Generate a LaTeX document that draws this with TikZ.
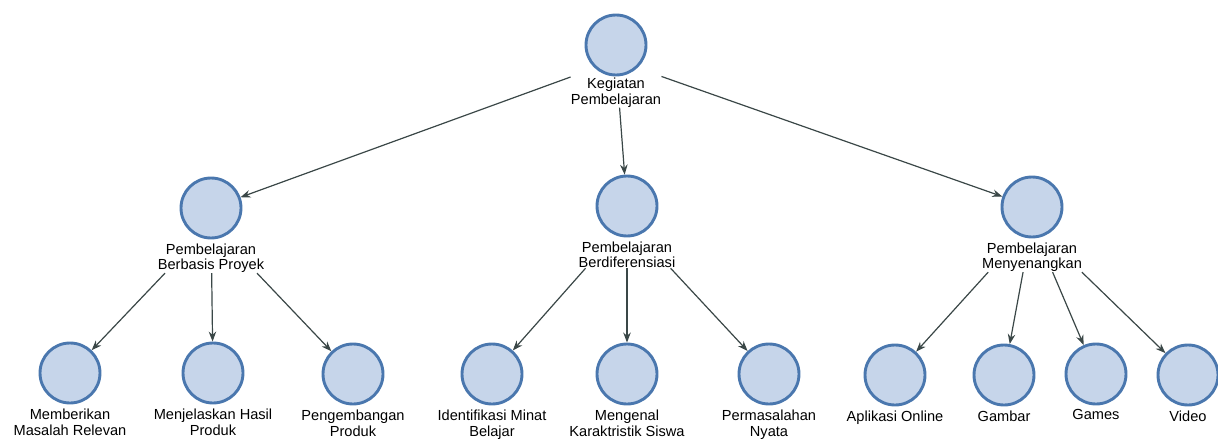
\documentclass[tikz,border=0pt]{standalone}
\usepackage{fontspec}
\setmainfont{Liberation Sans}
\usetikzlibrary{arrows.meta,fit,positioning}
\definecolor{cfill}{HTML}{C6D5EA}
\definecolor{cline}{HTML}{4A77AE}
\definecolor{arr}{HTML}{3A4747}
\tikzset{
  circ/.style={circle, draw=cline, fill=cfill, line width=2.9pt, minimum size=60pt, inner sep=0pt},
  lbl/.style={anchor=north, align=center, inner sep=0pt, font=\fontsize{14.6pt}{15.5pt}\selectfont},
  grp/.style={inner sep=0pt, rectangle},
  edge/.style={draw=arr, line width=1.2pt, -{Stealth[length=10pt,width=7.5pt]}}
}
\newcommand{\treenode}[4]{%
  \node[circ] (#1c) at (#2) {};
  \node[lbl] (#1l) at ([yshift=-#4]#1c.south) {#3};
  \node[grp, fit=(#1c)(#1l)] (#1) {};
}
\begin{document}
\begin{tikzpicture}[x=1pt,y=-1pt]
\useasboundingbox (0,0) rectangle (1218,441);
\treenode{r}{616,45}{Kegiatan\\Pembelajaran}{1.5pt}
\treenode{a}{211,208}{Pembelajaran\\Berbasis Proyek}{4pt}
\treenode{b}{627,206}{Pembelajaran\\Berdiferensiasi}{4pt}
\treenode{c}{1032,207}{Pembelajaran\\Menyenangkan}{4pt}
\treenode{a1}{70,373}{Memberikan\\Masalah Relevan}{4.5pt}
\treenode{a2}{213,373}{Menjelaskan Hasil\\Produk}{4.5pt}
\treenode{a3}{353,374}{Pengembangan\\Produk}{4.5pt}
\treenode{b1}{492,374}{Identifikasi Minat\\Belajar}{4.5pt}
\treenode{b2}{627,374}{Mengenal\\Karaktristik Siswa}{4.5pt}
\treenode{b3}{769,374}{Permasalahan\\Nyata}{4.5pt}
\treenode{c1}{895,375}{Aplikasi Online}{4pt}
\treenode{c2}{1004,375}{Gambar}{4pt}
\treenode{c3}{1096,374}{Games}{4pt}
\treenode{c4}{1188,375}{Video}{4pt}
\path[edge] (r) -- (ac);
\path[edge] (r) -- (bc);
\path[edge] (r) -- (cc);
\path[edge] (a) -- (a1c);
\path[edge] (a) -- (a2c);
\path[edge] (a) -- (a3c);
\path[edge] (b) -- (b1c);
\path[edge] (b) -- (b2c);
\path[edge] (b) -- (b3c);
\path[edge] (c) -- (c1c);
\path[edge] (c) -- (c2c);
\path[edge] (c) -- (c3c);
\path[edge] (c) -- (c4c);
\end{tikzpicture}
\end{document}
